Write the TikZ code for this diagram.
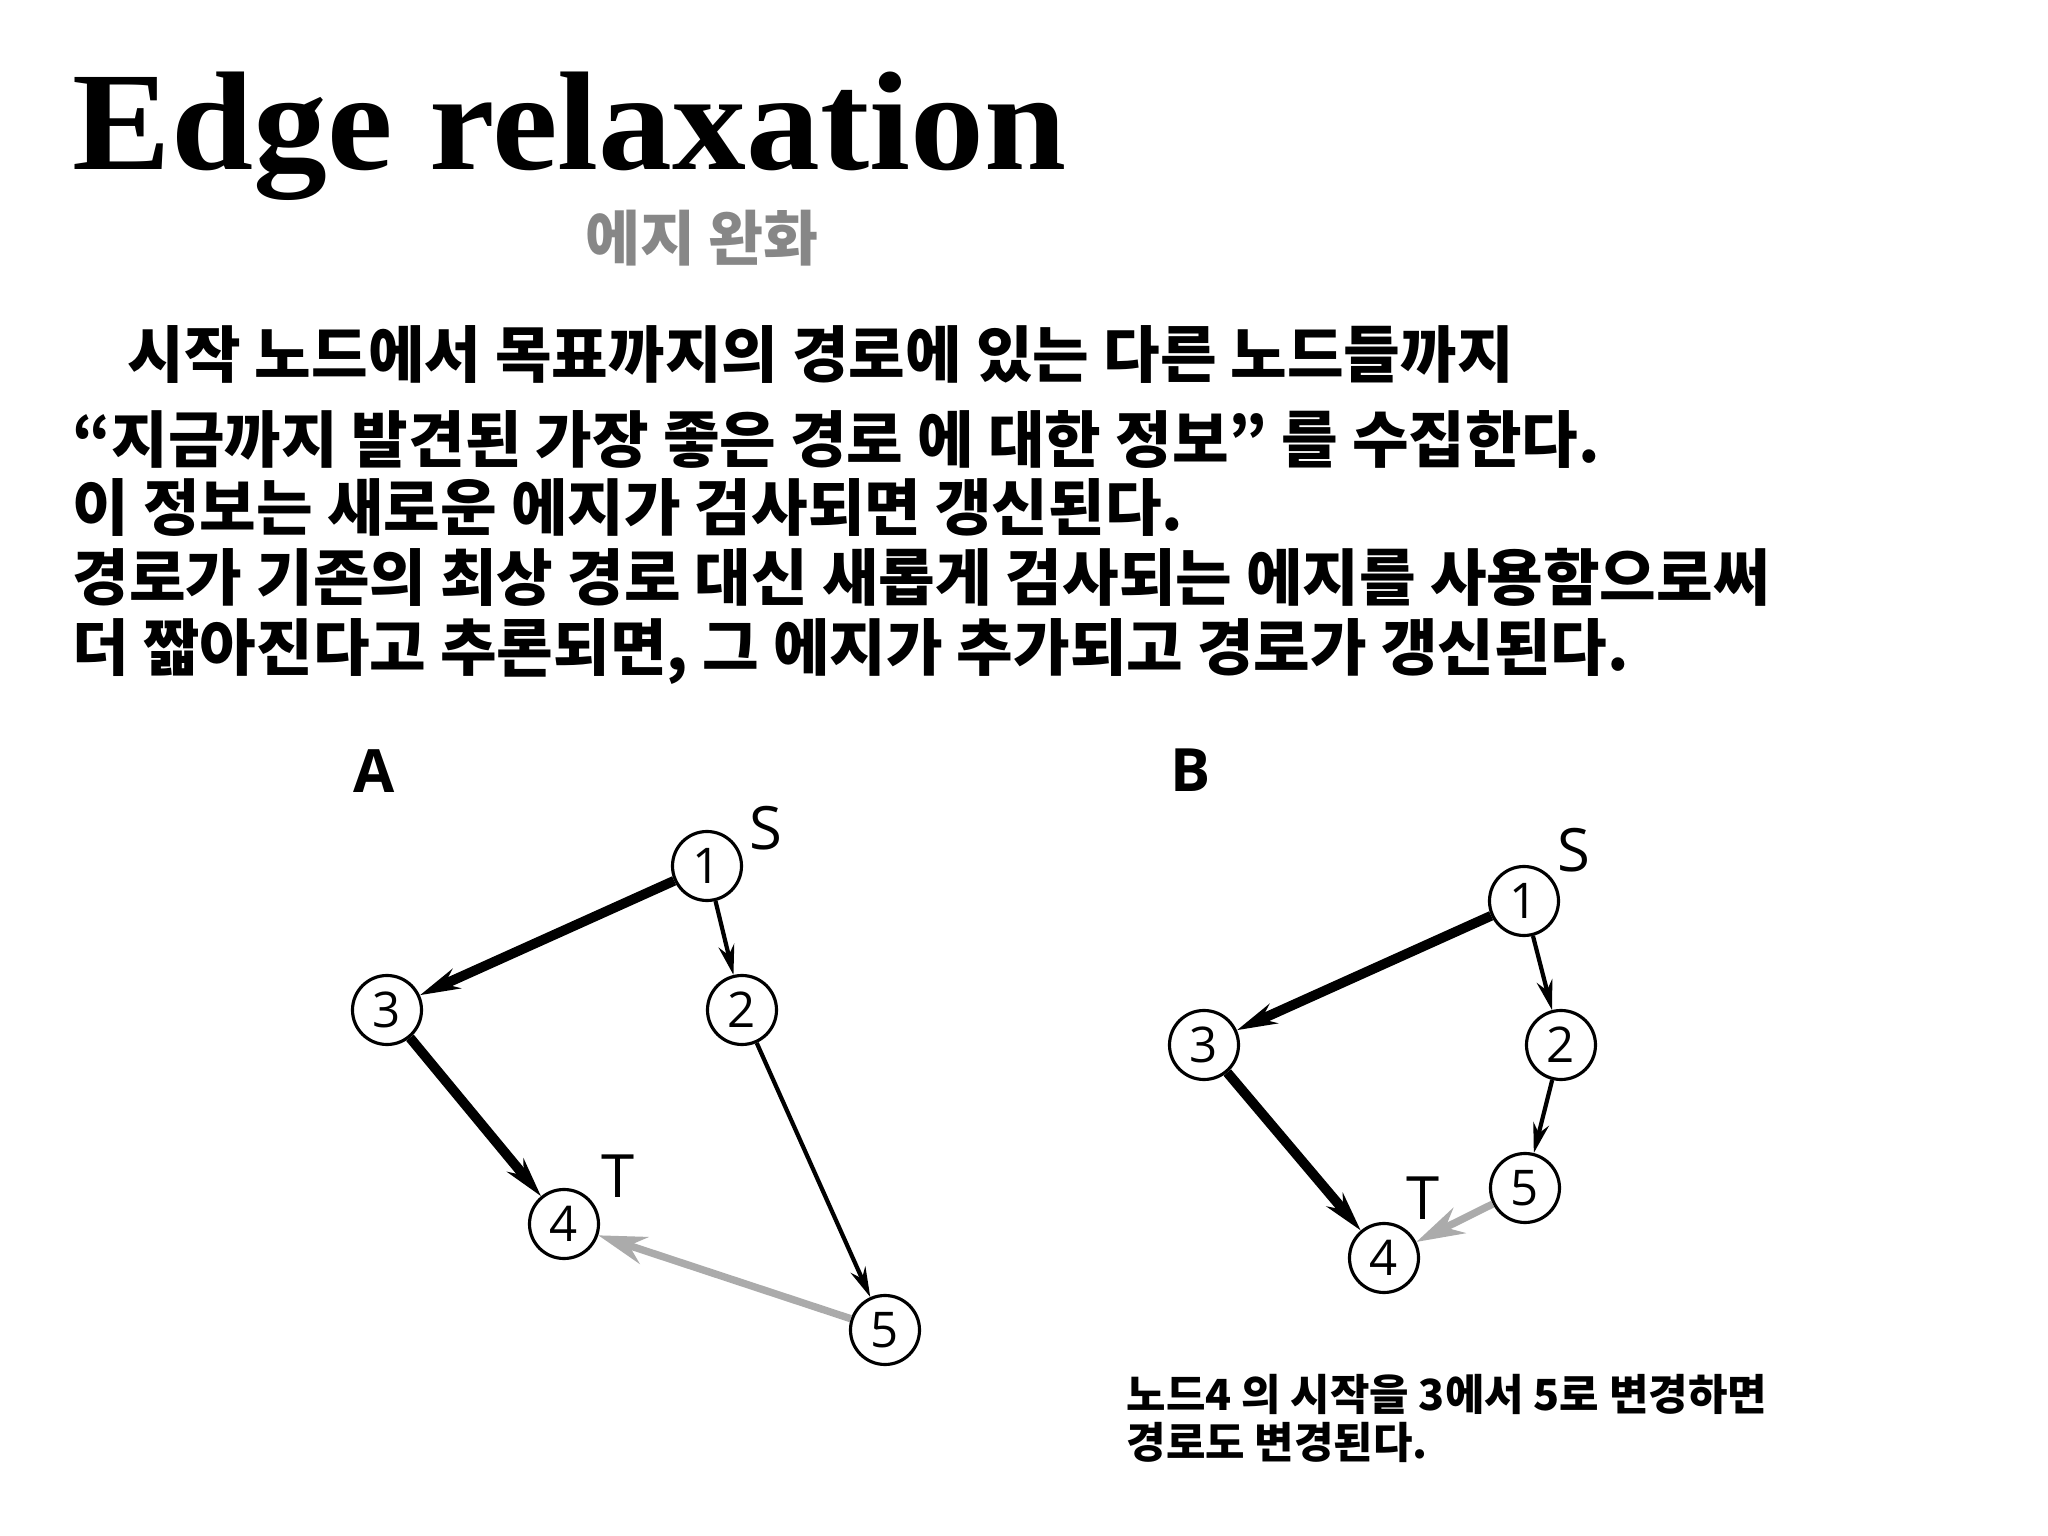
\documentclass[tikz,border=0pt]{standalone}
\usepackage{fontspec}
\setmainfont{Liberation Serif}
\newfontfamily\krfont{Noto Sans CJK KR}
\newfontfamily\figfont{Open Sans}
\usetikzlibrary{arrows.meta}

\begin{document}
\begin{tikzpicture}[
  vertex/.style={draw, circle, line width=0.9pt, minimum size=6.9mm, inner sep=0pt, font=\figfont\fontsize{14}{15}\selectfont},
  heavy/.style={draw, line width=2.8pt, -{Stealth[length=4mm,width=2.1mm]}},
  plain/.style={draw, line width=1.2pt, -{Stealth[length=3mm,width=1.6mm]}},
  relax/.style={draw, line width=2.1pt, color=black!33, -{Stealth[length=4.8mm,width=2.8mm]}},
  tag/.style={font=\figfont\fontsize{17}{19}\selectfont},
  body/.style={anchor=base west, inner sep=0pt, font=\krfont\bfseries\fontsize{17.5}{20}\selectfont}
]
\useasboundingbox (0,0) rectangle (20.48,-15.36);
% title
\node[anchor=base west, inner sep=0pt, font=\bfseries\fontsize{40}{44}\selectfont] (title) at (0.72,-1.70) {\scalebox{1.05}[1]{Edge relaxation}};
\node[font=\krfont\bfseries\fontsize{17}{19}\selectfont, text=black!47] (sub) at (7.02,-2.38) {에지 완화};
% text
\node[body] (l1) at (1.27,-3.77) {시작 노드에서 목표까지의 경로에 있는 다른 노드들까지};
\node[body] (l2) at (0.72,-4.63) {“지금까지 발견된 가장 좋은 경로 에 대한 정보” 를 수집한다.};
\node[body] (l3) at (0.72,-5.31) {이 정보는 새로운 에지가 검사되면 갱신된다.};
\node[body] (l4) at (0.72,-6.01) {경로가 기존의 최상 경로 대신 새롭게 검사되는 에지를 사용함으로써};
\node[body] (l5) at (0.72,-6.71) {더 짧아진다고 추론되면, 그 에지가 추가되고 경로가 갱신된다.};
% graph A
\begin{scope}
\node[tag, font=\figfont\bfseries\fontsize{17}{19}\selectfont] (a) at (3.74,-7.71) {A};
\node[vertex] (1) at (7.07,-8.66) {1};
\node[vertex] (2) at (7.42,-10.10) {2};
\node[vertex] (3) at (3.87,-10.10) {3};
\node[vertex] (4) at (5.64,-12.24) {4};
\node[vertex] (5) at (8.85,-13.30) {5};
\node[tag] (s) at (7.66,-8.28) {S};
\node[tag] (t) at (6.18,-11.76) {T};
\path[heavy] (1) -- (3);
\path[plain] (1) -- (2);
\path[heavy] (3) -- (4);
\path[plain] (2) -- (5);
\path[relax] (5) -- (4);
\end{scope}
% graph B
\begin{scope}
\node[tag, font=\figfont\bfseries\fontsize{17}{19}\selectfont] (b) at (11.91,-7.70) {B};
\node[vertex] (1) at (15.24,-9.01) {1};
\node[vertex] (2) at (15.61,-10.45) {2};
\node[vertex] (3) at (12.04,-10.45) {3};
\node[vertex] (4) at (13.84,-12.58) {4};
\node[vertex] (5) at (15.25,-11.88) {5};
\node[tag] (s) at (15.74,-8.50) {S};
\node[tag] (t) at (14.23,-11.98) {T};
\path[heavy] (1) -- (3);
\path[plain] (1) -- (2);
\path[heavy] (3) -- (4);
\path[plain] (2) -- (5);
\path[relax] (5) -- (4);
\end{scope}
% caption
\node[anchor=base west, inner sep=0pt, font=\krfont\bfseries\fontsize{12.2}{14}\selectfont] (c1) at (11.26,-14.10) {노드4 의 시작을 3에서 5로 변경하면};
\node[anchor=base west, inner sep=0pt, font=\krfont\bfseries\fontsize{12.2}{14}\selectfont] (c2) at (11.26,-14.58) {경로도 변경된다.};
\end{tikzpicture}
\end{document}
